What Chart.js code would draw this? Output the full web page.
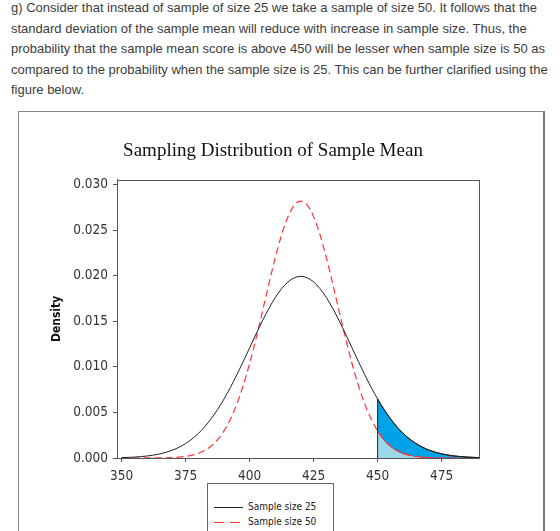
<!DOCTYPE html>
<html>
<head>
<meta charset="utf-8">
<script src="https://cdn.jsdelivr.net/npm/chart.js@4.4.1/dist/chart.umd.min.js"></script>
<style>
html,body{margin:0;padding:0;background:#fff;width:560px;height:531px;overflow:hidden;position:relative}
#txt{position:absolute;left:11px;top:-2px;margin:0;font:13px/20.6px "Liberation Sans",Arial,sans-serif;color:#3c3c3c;white-space:nowrap}
#box{position:absolute;left:18px;top:111px;width:524px;height:440px;border:1px solid #888;border-right:2px solid #777}
#c{position:absolute;left:0;top:0}
#legend{position:absolute;left:207px;top:483px;width:125px;height:60px;border:1px solid #666;background:#fff;font:10px "DejaVu Sans Condensed","DejaVu Sans",sans-serif;color:#222}
.item{position:absolute;left:5px;height:12px;line-height:12px;white-space:nowrap}
.item svg{position:absolute;left:0;top:0}
.item span{position:absolute;left:35px;top:0}
</style>
</head>
<body>
<p id="txt">g) Consider that instead of sample of size 25 we take a sample of size 50. It follows that the<br>standard deviation of the sample mean will reduce with increase in sample size. Thus, the<br>probability that the sample mean score is above 450 will be lesser when sample size is 50 as<br>compared to the probability when the sample size is 25. This can be further clarified using the<br>figure below.</p>
<div id="box"></div>
<canvas id="c" width="560" height="531"></canvas>
<div id="legend">
  <div class="item" style="top:17px"><svg width="30" height="12"><line x1="1" y1="6.5" x2="30" y2="6.5" stroke="#222" stroke-width="1"/></svg><span>Sample size 25</span></div>
  <div class="item" style="top:32px"><svg width="30" height="12"><line x1="1" y1="6.5" x2="30" y2="6.5" stroke="#ff3333" stroke-width="1.2" stroke-dasharray="10,6"/></svg><span>Sample size 50</span></div>
</div>
<script>
// ---- data ----
const seriesLabels = ['Sample size 25', 'Sample size 50'];
const xValues = [350,352.5,355,357.5,360,362.5,365,367.5,370,372.5,375,377.5,380,382.5,385,387.5,390,392.5,395,397.5,400,402.5,405,407.5,410,412.5,415,417.5,420,422.5,425,427.5,430,432.5,435,437.5,440,442.5,445,447.5,450,452.5,455,457.5,460,462.5,465,467.5,470,472.5,475,477.5,480,482.5,485,487.5,490];
const density25 = [0.000044,0.000067,0.000101,0.000151,0.000222,0.000320,0.000455,0.000636,0.000876,0.001189,0.001587,0.002086,0.002700,0.003439,0.004314,0.005327,0.006476,0.007751,0.009132,0.010594,0.012098,0.013603,0.015057,0.016408,0.017603,0.018593,0.019333,0.019792,
  0.019947,
  0.019792,0.019333,0.018593,0.017603,0.016408,0.015057,0.013603,0.012098,0.010594,0.009132,0.007751,0.006476,0.005327,0.004314,0.003439,0.002700,0.002086,0.001587,0.001189,0.000876,0.000636,0.000455,0.000320,0.000222,0.000151,0.000101,0.000067,0.000044];
const density50 = [0.0000001,0.0000003,0.0000007,0.0000016,0.0000035,0.0000073,0.0000147,0.0000287,0.0000544,0.000100,0.000179,0.000309,0.000517,0.000839,0.001319,0.002012,0.002973,0.004259,0.005913,0.007957,0.010378,0.013118,0.016073,0.019087,0.021969,0.024508,0.026500,0.027772,
  0.028209,
  0.027772,0.026500,0.024508,0.021969,0.019087,0.016073,0.013118,0.010378,0.007957,0.005913,0.004259,0.002973,0.002012,0.001319,0.000839,0.000517,0.000309,0.000179,0.000100,0.0000544,0.0000287,0.0000147,0.0000073,0.0000035,0.0000016,0.0000007,0.0000003,0.0000001];
const tailStart = 450;
const xTickValues = [350,375,400,425,450,475];
const yTickValues = [0,0.005,0.010,0.015,0.020,0.025,0.030];
const xRange = [348.2, 489.6];
const yRange = [0, 0.03055];

// ---- build library data from the arrays ----
const pts25 = xValues.map((x,i)=>({x:x, y:density25[i]}));
const pts50 = xValues.map((x,i)=>({x:x, y:density50[i]}));
const tail25 = pts25.filter(p=>p.x>=tailStart);
const tail50 = pts50.filter(p=>p.x>=tailStart);
const tailIdx = xValues.indexOf(tailStart);
const vline = [{x:tailStart,y:0},{x:tailStart,y:density25[tailIdx]}];

const tickFont = {family:"'DejaVu Sans Condensed','DejaVu Sans',sans-serif", size:13.5};

const framePlugin = {
  id:'frame',
  afterDraw(chart){
    const {ctx, chartArea:a} = chart;
    ctx.save();
    ctx.strokeStyle = '#555';
    ctx.lineWidth = 1;
    ctx.strokeRect(Math.round(a.left)+0.5, Math.round(a.top)+0.5, Math.round(a.right)-Math.round(a.left), Math.round(a.bottom)-Math.round(a.top));
    ctx.restore();
  }
};

new Chart(document.getElementById('c'), {
  type:'line',
  data:{
    datasets:[
      {label:seriesLabels[0], data:pts25, borderColor:'#222', borderWidth:1, pointRadius:0, fill:false, cubicInterpolationMode:'monotone'},
      {label:seriesLabels[1], data:pts50, borderColor:'#ff3333', borderWidth:1.2, borderDash:[7,4], pointRadius:0, fill:false, cubicInterpolationMode:'monotone'},
      {label:'cut', data:vline, borderColor:'#222', borderWidth:1, pointRadius:0, fill:false},
      {label:'tail25', data:tail25, borderColor:'#111', borderWidth:1, pointRadius:0, fill:{target:'+1'}, backgroundColor:'#00a2e8', cubicInterpolationMode:'monotone'},
      {label:'tail50', data:tail50, borderColor:'#ee1c24', borderWidth:1.3, pointRadius:0, fill:'origin', backgroundColor:'#99d9ea', cubicInterpolationMode:'monotone'}
    ]
  },
  options:{
    responsive:false,
    animation:false,
    devicePixelRatio:1,
    events:[],
    layout:{padding:{left:67, right:81, top:0, bottom:43}},
    plugins:{
      legend:{display:false},
      tooltip:{enabled:false},
      title:{display:true, text:'Sampling Distribution of Sample Mean', color:'#111',
        font:{family:"'Liberation Serif','Times New Roman',serif", size:19, weight:'normal'},
        padding:{top:140, bottom:17}}
    },
    scales:{
      x:{type:'linear', position:'bottom', min:xRange[0], max:xRange[1],
        afterBuildTicks:s=>{s.ticks = xTickValues.map(v=>({value:v}));},
        afterFit:s=>{s.height = 30;},
        ticks:{font:tickFont, color:'#333', padding:6, maxRotation:0, autoSkip:false, callback:v=>String(v)},
        grid:{drawOnChartArea:false, drawTicks:true, tickLength:4, color:'#555'},
        border:{display:true, color:'#555'}
      },
      y:{type:'linear', position:'left', min:yRange[0], max:yRange[1],
        afterBuildTicks:s=>{s.ticks = yTickValues.map(v=>({value:v}));},
        afterFit:s=>{s.width = 50;},
        ticks:{font:tickFont, color:'#333', padding:5, autoSkip:false, callback:v=>Number(v).toFixed(3)},
        grid:{drawOnChartArea:false, drawTicks:true, tickLength:4, color:'#555'},
        border:{display:true, color:'#555'},
        title:{display:true, text:'Density', color:'#111', font:{family:"'DejaVu Sans Condensed','DejaVu Sans',sans-serif", size:12, weight:'bold'}, padding:{top:-17, bottom:0}}
      }
    }
  },
  plugins:[framePlugin]
});
</script>
</body>
</html>
